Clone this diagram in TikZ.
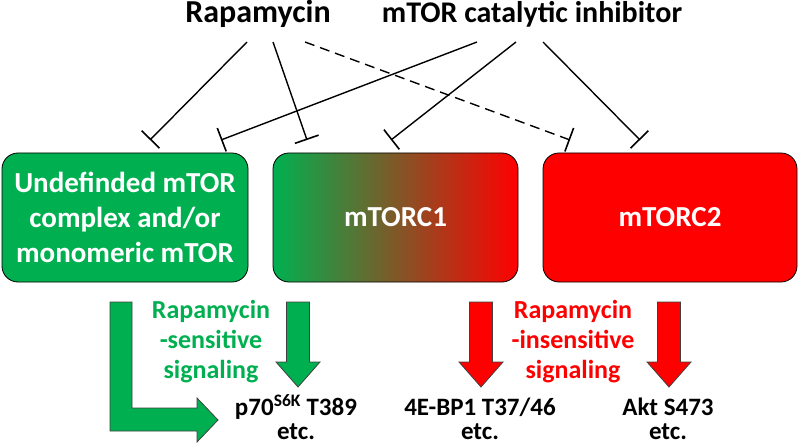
\documentclass[tikz,border=0pt]{standalone}
\usepackage{fontspec}
\setmainfont{Carlito}
\usetikzlibrary{arrows.meta}
\definecolor{offgreen}{HTML}{00B050}
\definecolor{offred}{HTML}{FF0000}
\definecolor{olive}{HTML}{A88A40}
\begin{document}
\begin{tikzpicture}[
  x=1pt, y=-1pt,
  every node/.style={inner sep=0pt, align=center},
  drug/.style={font=\fontsize{#1}{34}\selectfont\bfseries},
  complex/.style={draw=black, line width=0.8pt, rounded corners=16pt, minimum height=129pt,
    text=white, font=\fontsize{29}{35}\selectfont\bfseries},
  note/.style={text=#1, font=\fontsize{26}{30}\selectfont\bfseries},
  target/.style={font=\fontsize{25}{24}\selectfont\bfseries},
  inhibit/.style={line width=1.4pt, -{Bar[width=25pt, line width=1.6pt]}},
  fat/.style={draw=black!75, line width=0.8pt, fill=#1}
]
\useasboundingbox (0,0) rectangle (800,446);

% drugs
\node[drug=32, anchor=base] (rapa) at (258,23) {Rapamycin};
\node[drug=30, anchor=base] (inhib) at (532,23) {mTOR catalytic inhibitor};

% complexes
\node[complex, fill=offgreen, minimum width=246pt] (undef) at (125,217.5)
  {Undefinded mTOR\\complex and/or\\monomeric mTOR};
\node[complex, left color=offgreen, middle color=olive, right color=offred, minimum width=245pt]
  (mtorc1) at (395.5,217.5) {mTORC1};
\node[complex, fill=offred, minimum width=254pt] (mtorc2) at (670,217.5) {mTORC2};

% line ends
\coordinate (rapa-a) at (247,42);
\coordinate (rapa-b) at (273,42);
\coordinate (rapa-c) at (305,42);
\coordinate (inhib-a) at (477,42);
\coordinate (inhib-b) at (516,42);
\coordinate (inhib-c) at (543,42);
\coordinate (undef-r) at (150,140);
\coordinate (undef-i) at (221,140);
\coordinate (mtorc1-r) at (307,140);
\coordinate (mtorc1-i) at (391,140);
\coordinate (mtorc2-r) at (570,140);
\coordinate (mtorc2-i) at (640,140);

\draw[inhibit] (rapa-a) -- (undef-r);
\draw[inhibit] (rapa-b) -- (mtorc1-r);
\draw[inhibit, dashed, dash pattern=on 10pt off 6pt] (rapa-c) -- (mtorc2-r);
\draw[inhibit] (inhib-a) -- (undef-i);
\draw[inhibit] (inhib-b) -- (mtorc1-i);
\draw[inhibit] (inhib-c) -- (mtorc2-i);

% signaling arrows
\draw[fat=offgreen] (110,302) -- (132,302) -- (132,408) -- (197,408) -- (197,398)
  -- (218,420) -- (197,442) -- (197,431) -- (110,431) -- cycle;
\foreach \x/\c in {298/offgreen, 481/offred, 669/offred}
  \draw[fat=\c] (\x-11.5,302) -- (\x+11.5,302) -- (\x+11.5,362) -- (\x+22,362)
    -- (\x,387) -- (\x-22,362) -- (\x-11.5,362) -- cycle;

\node[note=offgreen] (sens) at (211,342) {Rapamycin\\-sensitive\\signaling};
\node[note=offred] (insens) at (573,342) {Rapamycin\\-insensitive\\signaling};

% targets
\node[target] (p70) at (296,417) {p70\textsuperscript{S6K} T389\\etc.};
\node[target] (bp1) at (480,419) {4E-BP1 T37/46\\etc.};
\node[target] (akt) at (668,419) {Akt S473\\etc.};
\end{tikzpicture}
\end{document}
